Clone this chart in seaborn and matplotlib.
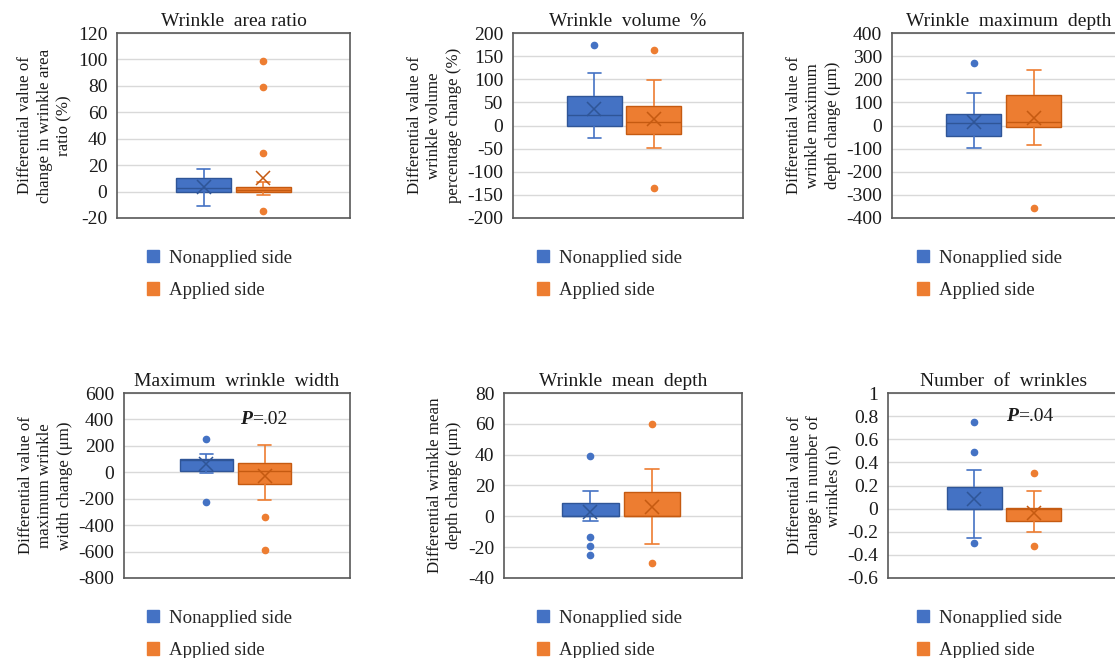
import numpy as np
import pandas as pd
import matplotlib
matplotlib.use("Agg")
import matplotlib.pyplot as plt
from matplotlib.patches import Patch
import seaborn as sns

# ---------------- data ----------------
sides = ["Nonapplied side", "Applied side"]

titles = ["Wrinkle  area ratio", "Wrinkle  volume  %", "Wrinkle  maximum  depth",
          "Maximum  wrinkle  width", "Wrinkle  mean  depth", "Number  of  wrinkles"]

ylabels = ["Differential value of\nchange in wrinkle area\nratio (%)",
           "Differential value of\nwrinkle volume\npercentage change (%)",
           "Differential value of\nwrinkle maximum\ndepth change (μm)",
           "Differential value of\nmaximum wrinkle\nwidth change (μm)",
           "Differential wrinkle mean\ndepth change (μm)",
           "Differential value of\nchange in number of\nwrinkles (n)"]

area_nonapplied = [-11, -7, -4, -2, -1, 0, 0.5, 1, 1.5, 2, 2.5, 3, 4, 5, 7, 10.5, 11, 11.5, 12, 13, 17]
area_applied = [-15, -2.5, -2, -1.5, -1, -0.5, 0, 0.5, 1, 1, 1.5, 2, 2.5, 3, 3, 3.5, 5, 7.5, 29, 79, 99]

volume_nonapplied = [-28, -20, -12, -6, -2, 0, 5, 10, 15, 19, 22, 30, 40, 48, 56, 63, 70, 80, 92, 113, 175]
volume_applied = [-135, -48, -35, -28, -22, -18, -10, -4, 0, 4, 8, 12, 20, 27, 35, 42, 50, 60, 75, 98, 163]

maxdepth_nonapplied = [-97, -90, -80, -70, -55, -46, -30, -15, -5, 5, 10, 18, 26, 34, 42, 50, 60, 75, 95, 142, 270]
maxdepth_applied = [-355, -86, -70, -45, -25, -7, 0, 5, 9, 12, 15, 20, 40, 60, 90, 130, 140, 150, 165, 190, 242]

maxwidth_nonapplied = [-225, -8, 0, 5, 10, 12, 40, 60, 80, 90, 96, 96, 97, 97, 98, 98, 105, 115, 125, 137, 255]
maxwidth_applied = [-585, -335, -212, -150, -110, -85, -60, -35, -15, 0, 10, 25, 40, 52, 62, 70, 95, 125, 160, 185, 210]

meandepth_nonapplied = [-25, -19, -13.5, -3, -1, 0, 0, 0, 0, 0, 0.5, 3, 5, 6.5, 7.5, 8.5, 10, 12, 14, 16.5, 39]
meandepth_applied = [-30, -18, -14, -8, -3, 0, 0, 0, 0, 0, 0.5, 5, 8, 10, 13, 16, 17, 19, 22, 30.5, 60]

number_nonapplied = [-0.3, -0.25, -0.2, -0.1, -0.05, 0, 0, 0, 0, 0, 0, 0.05, 0.1, 0.13, 0.17, 0.19, 0.21, 0.25, 0.33, 0.49, 0.75]
number_applied = [-0.32, -0.2, -0.15, -0.12, -0.11, -0.105, -0.1, -0.1, -0.08, -0.05, 0, 0, 0, 0, 0, 0.005, 0.01, 0.02, 0.05, 0.15, 0.31]

series = [(area_nonapplied, area_applied), (volume_nonapplied, volume_applied),
          (maxdepth_nonapplied, maxdepth_applied), (maxwidth_nonapplied, maxwidth_applied),
          (meandepth_nonapplied, meandepth_applied), (number_nonapplied, number_applied)]

y_ranges = [(-20, 120, 20), (-200, 200, 50), (-400, 400, 100),
            (-800, 600, 200), (-40, 80, 20), (-0.6, 1.0, 0.2)]

p_labels = {3: ".02", 5: ".04"}

# ---------------- style ----------------
sns.set_theme(style="white")
plt.rcParams["font.family"] = ["Liberation Serif", "DejaVu Serif"]

fills = {"Nonapplied side": "#4472C4", "Applied side": "#ED7D31"}
edges = {"Nonapplied side": "#2F5597", "Applied side": "#C55A11"}

W, H = 1115, 658
fig = plt.figure(figsize=(W / 100, H / 100), dpi=100)
fig.patch.set_facecolor("white")

# (left, top, right, bottom, centre fraction, legend x, legend y) in pixels
layout = [(117, 33, 350, 218, 0.50, 147, 250),
          (513, 33, 743, 218, 0.483, 537, 250),
          (892, 33, 1125, 218, 0.48, 917, 250),
          (124, 393, 350, 578, 0.493, 147, 610),
          (504, 393, 742, 578, 0.492, 537, 610),
          (888, 393, 1120, 578, 0.50, 917, 610)]
p_pos = {3: (0.075, 400), 5: (0.06, 0.80)}

FS = 14

def fmt(v):
    v = round(v, 6)
    if abs(v) < 1e-9:
        return "0"
    return f"{v:g}"

for i, (title, ylab, (nonap, ap), (lo, hi, step), lay) in enumerate(
        zip(titles, ylabels, series, y_ranges, layout)):
    l, t, r, b, c, lx, ly = lay
    ax = fig.add_axes([l / W, 1 - b / H, (r - l) / W, (b - t) / H])
    df = pd.DataFrame({
        "metric": title,
        "side": [sides[0]] * len(nonap) + [sides[1]] * len(ap),
        "value": list(nonap) + list(ap),
    })
    for s in sides:
        sub = df[df["side"] == s]
        sns.boxplot(data=sub, x="metric", y="value", hue="side", hue_order=sides,
                    palette=fills, saturation=1, dodge=True, width=0.515, gap=0.08,
                    linecolor=edges[s], linewidth=1.0, fliersize=4.5,
                    showmeans=True,
                    meanprops=dict(marker="x", markeredgecolor=edges[s],
                                   markerfacecolor=edges[s], markersize=10,
                                   markeredgewidth=1.1),
                    flierprops=dict(marker="o", markerfacecolor=fills[s],
                                    markeredgecolor=fills[s]),
                    whiskerprops=dict(color=fills[s], linewidth=1.2),
                    capprops=dict(color=fills[s], linewidth=1.2),
                    capwidths=0.06,
                    legend=False, ax=ax)
    ax.set_xlim(-c, 1 - c)
    ax.set_xticks([])
    ax.set_xlabel("")
    ax.set_ylim(lo, hi)
    ticks = np.arange(lo, hi + step / 2, step)
    ax.set_yticks(ticks)
    ax.set_yticklabels([fmt(v) for v in ticks], fontsize=FS)
    ax.tick_params(axis="y", length=0, pad=7, colors="#1a1a1a")
    ax.yaxis.grid(True, color="#D9D9D9", linewidth=1.0)
    ax.set_axisbelow(True)
    for sp in ax.spines.values():
        sp.set_visible(True)
        sp.set_color("#595959")
        sp.set_linewidth(1.2)
    ax.set_title(title, fontsize=FS, pad=5, color="#1a1a1a")
    ax.set_ylabel(ylab, fontsize=12.2, labelpad=4, linespacing=1.3, color="#1a1a1a")

    if i in p_labels:
        px, py = p_pos[i]
        tp = ax.text(px, py, "P", fontsize=FS, fontweight="bold", fontstyle="italic",
                     ha="right", va="center", color="#1a1a1a")
        ax.annotate("=" + p_labels[i], xy=(1, 0), xycoords=tp, ha="left", va="bottom",
                    fontsize=FS, color="#1a1a1a")

    handles = [Patch(facecolor=fills[s], edgecolor=fills[s]) for s in sides]
    ax.legend(handles, sides, loc="upper left", bbox_to_anchor=(lx / W, 1 - ly / H),
              bbox_transform=fig.transFigure, frameon=False, fontsize=13.6,
              borderpad=0, borderaxespad=0, handlelength=0.62, handleheight=0.62,
              handletextpad=0.55, labelspacing=0.8)

fig.savefig("out.png", dpi=100, facecolor="white")
